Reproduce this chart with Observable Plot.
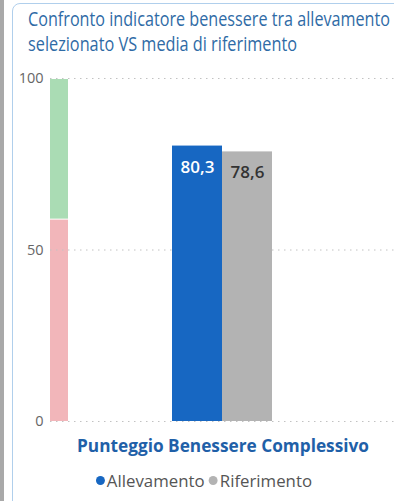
<!DOCTYPE html>
<html>
<head>
<meta charset="utf-8">
<script src="https://cdn.jsdelivr.net/npm/d3@7"></script>
<script src="https://cdn.jsdelivr.net/npm/@observablehq/plot@0.6"></script>
<style>
  html, body { margin: 0; padding: 0; background: #fff; }
  body { width: 394px; height: 501px; overflow: hidden; position: relative; font-family: "Open Sans", sans-serif; }
  #strip { position: absolute; left: 0; top: 0; width: 4px; height: 501px; background: #a9a9a9; }
  #card { position: absolute; left: 12px; top: 3px; width: 400px; height: 520px; border: 1px solid #b0cfec; border-radius: 8px; box-sizing: border-box; }
  .t { position: absolute; white-space: nowrap; transform-origin: 0 0; line-height: 1; }
  #title1, #title2 { font-size: 19.5px; color: #2f6ba6; left: 28px; }
  #title1 { top: 9px; }
  #title2 { top: 34px; }
  #chart { position: absolute; left: 0; top: 62px; }
  #xlabel { font-size: 18.5px; font-weight: 700; color: #1f60a8; left: 77px; top: 436px; }
  #legend { left: 96px; top: 472px; font-size: 17px; color: #555; }
  .dot { display: inline-block; width: 9px; height: 9px; border-radius: 50%; vertical-align: 2px; margin-right: 2px; }
</style>
</head>
<body>
<div id="strip"></div>
<div id="card"></div>
<div class="t" id="title1" data-w="362">Confronto indicatore benessere tra allevamento</div>
<div class="t" id="title2" data-w="269">selezionato VS media di riferimento</div>
<div id="chart"></div>
<div class="t" id="xlabel" data-w="292"></div>
<div class="t" id="legend" data-w="216"></div>
<script>
// ---- data ----
const categories = ["Punteggio Benessere Complessivo"];
const series = ["Allevamento", "Riferimento"];
const values = [80.3, 78.6];
const bandNames = ["Insufficiente", "Sufficiente"];
const bandFrom = [0, 59];
const bandTo = [59, 100];
const yTicks = [0, 50, 100];

const seriesColors = ["#1767c2", "#b3b3b3"];
const labelColors = ["#ffffff", "#333333"];
const bandColors = ["#f2b6ba", "#aadcb4"];

const rows = series.map((s, i) => ({category: categories[0], series: s, value: values[i]}));
const bands = bandNames.map((b, i) => ({name: b, from: bandFrom[i], to: bandTo[i]}));
const fmt = v => String(v).replace(".", ",");

const chart = Plot.plot({
  width: 394,
  height: 369,
  marginTop: 16,
  marginBottom: 10,
  marginLeft: 50,
  marginRight: 0,
  style: {fontFamily: "Open Sans", fontSize: "14.5px", color: "#666", background: "transparent"},
  x: {type: "band", domain: series, paddingInner: 0, paddingOuter: 2.44, axis: null},
  y: {domain: [0, 100], ticks: yTicks, tickSize: 0, tickPadding: 7, label: null},
  color: {domain: series, range: seriesColors},
  marks: [
    Plot.rect(bands, {y1: "from", y2: "to", fill: (d, i) => bandColors[i], insetRight: 326, insetTop: 1, insetBottom: 0}),
    Plot.ruleY(yTicks, {stroke: "#c2c2c2", strokeDasharray: "1.5,4.5"}),
    Plot.barY(rows, {x: "series", y: "value", fill: "series"}),
    Plot.text(rows, {x: "series", y: "value", text: d => fmt(d.value), dy: 21, fontSize: 17, fontWeight: 600,
      fill: d => labelColors[series.indexOf(d.series)]})
  ]
});
document.getElementById("chart").appendChild(chart);

document.getElementById("xlabel").textContent = categories[0];
const legend = document.getElementById("legend");
series.forEach((s, i) => {
  const dot = document.createElement("span");
  dot.className = "dot";
  dot.style.background = seriesColors[i];
  legend.appendChild(dot);
  legend.appendChild(document.createTextNode(s + (i < series.length - 1 ? " " : "")));
});

function fit() {
  document.querySelectorAll("[data-w]").forEach(el => {
    el.style.transform = "none";
    const w = el.getBoundingClientRect().width;
    const target = +el.dataset.w;
    el.style.transform = `scaleX(${target / w})`;
  });
}
fit();
if (document.fonts && document.fonts.ready) document.fonts.ready.then(fit);
</script>
</body>
</html>
